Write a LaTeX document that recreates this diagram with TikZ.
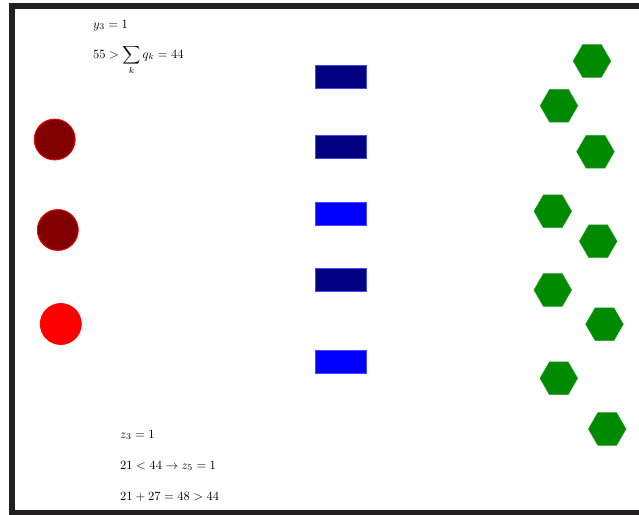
\documentclass[tikz,border=0pt]{standalone}
\usetikzlibrary{shapes.geometric}
\definecolor{framec}{RGB}{35,31,32}
\definecolor{darkred}{RGB}{128,0,0}
\definecolor{navyc}{RGB}{0,0,128}
\definecolor{bluec}{RGB}{0,0,255}
\definecolor{edgeblue}{RGB}{70,70,255}
\definecolor{hexgreen}{RGB}{0,138,0}
\tikzset{
  dot/.style={circle, inner sep=0pt, minimum size=41pt, draw=red, line width=0.8pt},
  bar/.style={rectangle, inner sep=0pt, minimum width=51pt, minimum height=23pt, draw=edgeblue, line width=0.6pt},
  hexa/.style={regular polygon, regular polygon sides=6, inner sep=0pt, minimum size=37.8pt, fill=hexgreen, draw=hexgreen!80!white, line width=0.4pt},
  lbl/.style={anchor=base west, inner sep=0pt}
}
\newcommand{\bigtxt}[1]{\scalebox{1.255}{#1}}
\begin{document}
\begin{tikzpicture}[x=1pt,y=-1pt]
\useasboundingbox (0,0) rectangle (639,514);
\clip (0,0) rectangle (639,514);
\fill[white] (0,0) rectangle (639,514);
\draw[framec, line width=6pt] (12,6) rectangle (720,513);

\node[lbl] (t1) at (93,28) {\bigtxt{$y_3 = 1$}};
\node[lbl] (t2) at (93,58) {\bigtxt{$\displaystyle 55 > \sum_k q_k = 44$}};
\node[lbl] (b1) at (120,438) {\bigtxt{$z_3 = 1$}};
\node[lbl] (b2) at (120,469) {\bigtxt{$21 < 44 \to z_5 = 1$}};
\node[lbl] (b3) at (120,500) {\bigtxt{$21 + 27 = 48 > 44$}};

\node[dot, fill=darkred] (c1) at (54.7,139.5) {};
\node[dot, fill=darkred] (c2) at (57.8,230) {};
\node[dot, fill=red] (c3) at (60.8,324) {};

\node[bar, fill=navyc] (r1) at (340.5,76.7) {};
\node[bar, fill=navyc] (r2) at (340.5,146.7) {};
\node[bar, fill=bluec] (r3) at (340.5,213.3) {};
\node[bar, fill=navyc] (r4) at (340.5,279.7) {};
\node[bar, fill=bluec] (r5) at (340.5,361.5) {};

\node[hexa] (h1) at (592,61) {};
\node[hexa] (h2) at (559,105.7) {};
\node[hexa] (h3) at (595.5,151.7) {};
\node[hexa] (h4) at (552.8,211.3) {};
\node[hexa] (h5) at (598.2,241.3) {};
\node[hexa] (h6) at (552.8,290) {};
\node[hexa] (h7) at (604.5,324.2) {};
\node[hexa] (h8) at (558.8,378.3) {};
\node[hexa] (h9) at (607.2,429) {};
\end{tikzpicture}
\end{document}
